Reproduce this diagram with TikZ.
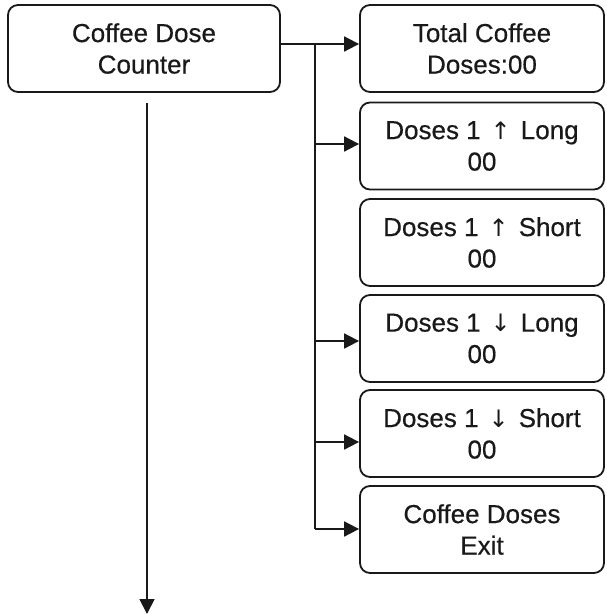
\documentclass[tikz,border=0pt]{standalone}
\usepackage{fontspec}
\setmainfont{Liberation Sans}
\newfontfamily\medfont[FakeBold=0.5]{Liberation Sans}
\newfontfamily\arrfont{DejaVu Sans}
\newcommand{\myup}{\hspace{10pt}{\arrfont\fontsize{24}{31.5}\selectfont ↑}\hspace{10pt}}
\newcommand{\mydown}{\hspace{10pt}{\arrfont\fontsize{24}{31.5}\selectfont ↓}\hspace{10pt}}
\usetikzlibrary{arrows.meta}
\begin{document}
\begin{tikzpicture}[x=1pt,y=-1pt,
  box/.style={draw=black!90, line width=1.8pt, rounded corners=10pt, align=center,
    inner sep=0pt, font=\medfont\fontsize{26}{31.5}\selectfont, text=black!90},
  mainbox/.style={box, minimum width=272pt, minimum height=87pt},
  subbox/.style={box, minimum width=244pt, minimum height=87pt},
  conn/.style={draw=black!90, line width=1.8pt},
  arr/.style={conn, -{Triangle[length=15pt,width=15pt]}}]
\useasboundingbox (0,0) rectangle (606,614);
\node[mainbox] (main) at (144,48.5) {Coffee Dose\\Counter};
\node[subbox] (b1) at (482,48.5) {Total Coffee\\Doses:00};
\node[subbox] (b2) at (482,146) {Doses 1\myup Long\\00};
\node[subbox] (b3) at (482,242.5) {Doses 1\myup Short\\00};
\node[subbox] (b4) at (482,338.5) {Doses 1\mydown Long\\00};
\node[subbox] (b5) at (482,433.5) {Doses 1\mydown Short\\00};
\node[subbox] (b6) at (482,529.5) {Coffee Doses\\Exit};
\coordinate (t1) at (315,44);
\coordinate (t2) at (315,144);
\coordinate (t4) at (315,341);
\coordinate (t5) at (315,442);
\coordinate (t6) at (315,529);
\coordinate (ds) at (147,103);
\coordinate (de) at (147,614);
\draw[conn] (main.east |- t1) -- (t1);
\draw[arr] (t1) -- (t1 -| b1.west);
\draw[conn] (t1) -- (t6);
\draw[arr] (t2) -- (t2 -| b2.west);
\draw[arr] (t4) -- (t4 -| b4.west);
\draw[arr] (t5) -- (t5 -| b5.west);
\draw[arr] (t6) -- (t6 -| b6.west);
\draw[arr] (ds) -- (de);
\end{tikzpicture}
\end{document}
